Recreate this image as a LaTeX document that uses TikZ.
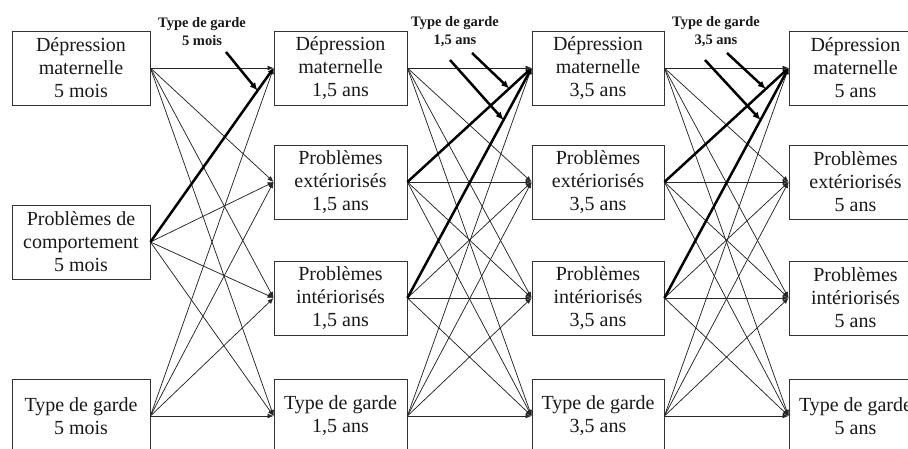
\documentclass[tikz,border=0pt]{standalone}
\usepackage{fontspec}
\setmainfont{Liberation Serif}
\usetikzlibrary{arrows.meta,calc}
\begin{document}
\begin{tikzpicture}[x=1pt,y=-1pt,
  box/.style={draw=black!80,line width=0.8pt,minimum height=74pt,inner sep=0pt,
    align=center,font=\fontsize{20}{23}\selectfont,text=black!90},
  link/.style={line width=0.75pt,draw=black!85,-{Latex[length=6pt,width=5pt]}},
  strong/.style={line width=2.5pt,draw=black,-{Latex[length=6pt,width=5pt]}},
  moderator/.style={line width=2.5pt,draw=black,-{Latex[length=8pt,width=7pt]}},
  modlabel/.style={align=center,inner sep=0pt,font=\bfseries\fontsize{14.5}{18}\selectfont,text=black!90}]
\useasboundingbox (0,0) rectangle (908,449);

% 5 mois
\node[box,minimum width=138pt] (a1) at (81,68)  {Dépression\\maternelle\\5 mois};
\node[box,minimum width=138pt] (a2) at (81,242) {Problèmes de\\comportement\\5 mois};
\node[box,minimum width=138pt] (a3) at (81,416) {Type de garde\\5 mois};

% 1,5 ans
\node[box,minimum width=133pt] (b1) at (340.5,68)  {Dépression\\maternelle\\1,5 ans};
\node[box,minimum width=133pt] (b2) at (340.5,182) {Problèmes\\extériorisés\\1,5 ans};
\node[box,minimum width=133pt] (b3) at (340.5,298) {Problèmes\\intériorisés\\1,5 ans};
\node[box,minimum width=133pt] (b4) at (340.5,416) {Type de garde\\1,5 ans};

% 3,5 ans
\node[box,minimum width=132pt] (c1) at (598,68)  {Dépression\\maternelle\\3,5 ans};
\node[box,minimum width=132pt] (c2) at (598,182) {Problèmes\\extériorisés\\3,5 ans};
\node[box,minimum width=132pt] (c3) at (598,298) {Problèmes\\intériorisés\\3,5 ans};
\node[box,minimum width=132pt] (c4) at (598,416) {Type de garde\\3,5 ans};

% 5 ans
\node[box,minimum width=133pt] (d1) at (855.5,68)  {Dépression\\maternelle\\5 ans};
\node[box,minimum width=133pt] (d2) at (855.5,182) {Problèmes\\extériorisés\\5 ans};
\node[box,minimum width=133pt] (d3) at (855.5,298) {Problèmes\\intériorisés\\5 ans};
\node[box,minimum width=133pt] (d4) at (855.5,416) {Type de garde\\5 ans};

% cross-lagged paths
\foreach \s in {a1,a2,a3}
  \foreach \t in {b1,b2,b3,b4}
    \draw[link] (\s.east) -- (\t.west);
\foreach \s in {b1,b2,b3,b4}
  \foreach \t in {c1,c2,c3,c4}
    \draw[link] (\s.east) -- (\t.west);
\foreach \s in {c1,c2,c3,c4}
  \foreach \t in {d1,d2,d3,d4}
    \draw[link] (\s.east) -- (\t.west);

% moderated paths
\draw[strong] (a2.east) -- (b1.west);
\draw[strong] (b2.east) -- (c1.west);
\draw[strong] (b3.east) -- (c1.west);
\draw[strong] (c2.east) -- (d1.west);
\draw[strong] (c3.east) -- (d1.west);

% moderators
\node[modlabel] (g1) at (202,32) {Type de garde\\5 mois};
\node[modlabel] (g2) at (455,32) {Type de garde\\1,5 ans};
\node[modlabel] (g3) at (716,32) {Type de garde\\3,5 ans};

\coordinate (m1) at (226,52);
\coordinate (m2) at (472,53);
\coordinate (m3) at (450,60);
\coordinate (m4) at (727,53);
\coordinate (m5) at (705,60);
\draw[moderator] (m1) -- ($(a2.east)!0.87!(b1.west)$);
\draw[moderator] (m2) -- ($(b2.east)!0.82!(c1.west)$);
\draw[moderator] (m3) -- ($(b3.east)!0.774!(c1.west)$);
\draw[moderator] (m4) -- ($(c2.east)!0.816!(d1.west)$);
\draw[moderator] (m5) -- ($(c3.east)!0.774!(d1.west)$);
\end{tikzpicture}
\end{document}
